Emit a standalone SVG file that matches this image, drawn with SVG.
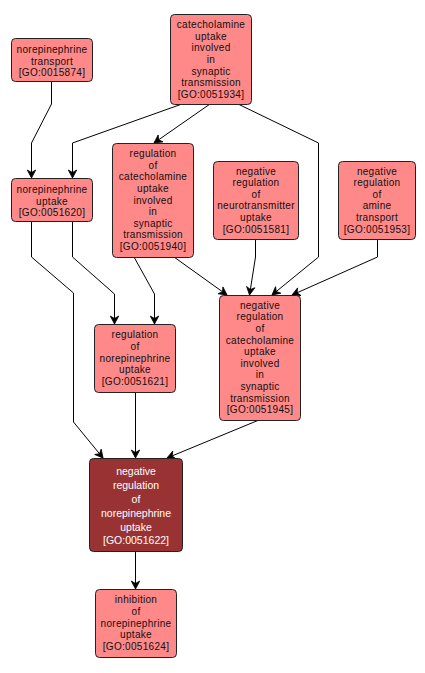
<svg xmlns="http://www.w3.org/2000/svg" width="425" height="673" viewBox="0 0 425 673">
<defs>
<style>
.n rect{fill:#ff8888;stroke:#222;stroke-width:1}
.n text{font-family:"Liberation Sans",Arial,sans-serif;font-size:10px;letter-spacing:0.3px;fill:#111;text-anchor:middle}
.d rect{fill:#993333;stroke:#222;stroke-width:1}
.d text{font-family:"Liberation Sans",Arial,sans-serif;font-size:10.5px;fill:#fff;text-anchor:middle}
.e path{fill:none;stroke:#000;stroke-width:1;marker-end:url(#a)}
</style>
<marker id="a" markerUnits="userSpaceOnUse" markerWidth="12" markerHeight="12" viewBox="-10 -6 12 12" refX="0" refY="0" orient="auto">
<path d="M0,0 L-8,-4.2 L-5.5,0 L-8,4.2 Z" fill="#000" stroke="#000" stroke-width="0.8"/>
</marker>
</defs>
<rect width="425" height="673" fill="#fff"/>
<g id="edges" class="e">
<path d="M51.5,81 L51.5,104 L31.5,143 L31.5,178"/>
<path d="M182,104 L72.5,143 L72.5,178"/>
<path d="M210,104 L154,143"/>
<path d="M238,104 L318.5,143 L318.5,257 L272,295"/>
<path d="M31.5,221 L31.5,257 L73.5,293 L73.5,422 L103,458"/>
<path d="M72.5,221 L72.5,257 L114.5,294 L114.5,324"/>
<path d="M134,257 L154.5,294 L154.5,324"/>
<path d="M174,257 L227,295"/>
<path d="M255.5,239 L255.5,257 L249.5,295"/>
<path d="M377.5,239 L377.5,257 L292,295"/>
<path d="M135.5,392 L135.5,458"/>
<path d="M259,420 L167,458"/>
<path d="M135.5,551 L135.5,589"/>
</g>
<g id="GO0015874" class="n">
<rect x="11.5" y="38.5" width="81" height="43" rx="4"/>
<text x="52" y="53">norepinephrine</text>
<text x="52" y="64.6">transport</text>
<text x="52" y="76.2">[GO:0015874]</text>
</g>
<g id="GO0051934" class="n">
<rect x="170.5" y="14.5" width="81" height="90" rx="4"/>
<text x="211" y="28.2">catecholamine</text>
<text x="211" y="39.8">uptake</text>
<text x="211" y="51.4">involved</text>
<text x="211" y="63">in</text>
<text x="211" y="74.6">synaptic</text>
<text x="211" y="86.2">transmission</text>
<text x="211" y="97.8">[GO:0051934]</text>
</g>
<g id="GO0051620" class="n">
<rect x="11.5" y="178.5" width="81" height="43" rx="4"/>
<text x="52" y="193">norepinephrine</text>
<text x="52" y="204.6">uptake</text>
<text x="52" y="216.2">[GO:0051620]</text>
</g>
<g id="GO0051940" class="n">
<rect x="112.5" y="143.5" width="81" height="114" rx="4"/>
<text x="153" y="157.1">regulation</text>
<text x="153" y="168.7">of</text>
<text x="153" y="180.3">catecholamine</text>
<text x="153" y="191.9">uptake</text>
<text x="153" y="203.5">involved</text>
<text x="153" y="215.1">in</text>
<text x="153" y="226.7">synaptic</text>
<text x="153" y="238.3">transmission</text>
<text x="153" y="249.9">[GO:0051940]</text>
</g>
<g id="GO0051581" class="n">
<rect x="213.5" y="161.5" width="85" height="78" rx="4"/>
<text x="256" y="174.5">negative</text>
<text x="256" y="186.1">regulation</text>
<text x="256" y="197.7">of</text>
<text x="256" y="209.3">neurotransmitter</text>
<text x="256" y="220.9">uptake</text>
<text x="256" y="232.5">[GO:0051581]</text>
</g>
<g id="GO0051953" class="n">
<rect x="338.5" y="161.5" width="77" height="78" rx="4"/>
<text x="377" y="174.5">negative</text>
<text x="377" y="186.1">regulation</text>
<text x="377" y="197.7">of</text>
<text x="377" y="209.3">amine</text>
<text x="377" y="220.9">transport</text>
<text x="377" y="232.5">[GO:0051953]</text>
</g>
<g id="GO0051621" class="n">
<rect x="94.5" y="324.5" width="81" height="68" rx="4"/>
<text x="135" y="338.3">regulation</text>
<text x="135" y="349.9">of</text>
<text x="135" y="361.5">norepinephrine</text>
<text x="135" y="373.1">uptake</text>
<text x="135" y="384.7">[GO:0051621]</text>
</g>
<g id="GO0051945" class="n">
<rect x="219.5" y="295.5" width="81" height="125" rx="4"/>
<text x="260" y="308.8">negative</text>
<text x="260" y="320.4">regulation</text>
<text x="260" y="332">of</text>
<text x="260" y="343.6">catecholamine</text>
<text x="260" y="355.2">uptake</text>
<text x="260" y="366.8">involved</text>
<text x="260" y="378.4">in</text>
<text x="260" y="390">synaptic</text>
<text x="260" y="401.6">transmission</text>
<text x="260" y="413.2">[GO:0051945]</text>
</g>
<g id="GO0051622" class="d">
<rect x="89.5" y="458.5" width="93" height="93" rx="4"/>
<text x="136" y="475.3">negative</text>
<text x="136" y="489.1">regulation</text>
<text x="136" y="502.9">of</text>
<text x="136" y="516.7">norepinephrine</text>
<text x="136" y="530.5">uptake</text>
<text x="136" y="544.3">[GO:0051622]</text>
</g>
<g id="GO0051624" class="n">
<rect x="95.5" y="589.5" width="81" height="68" rx="4"/>
<text x="136" y="603.3">inhibition</text>
<text x="136" y="614.9">of</text>
<text x="136" y="626.5">norepinephrine</text>
<text x="136" y="638.1">uptake</text>
<text x="136" y="649.7">[GO:0051624]</text>
</g>
</svg>
